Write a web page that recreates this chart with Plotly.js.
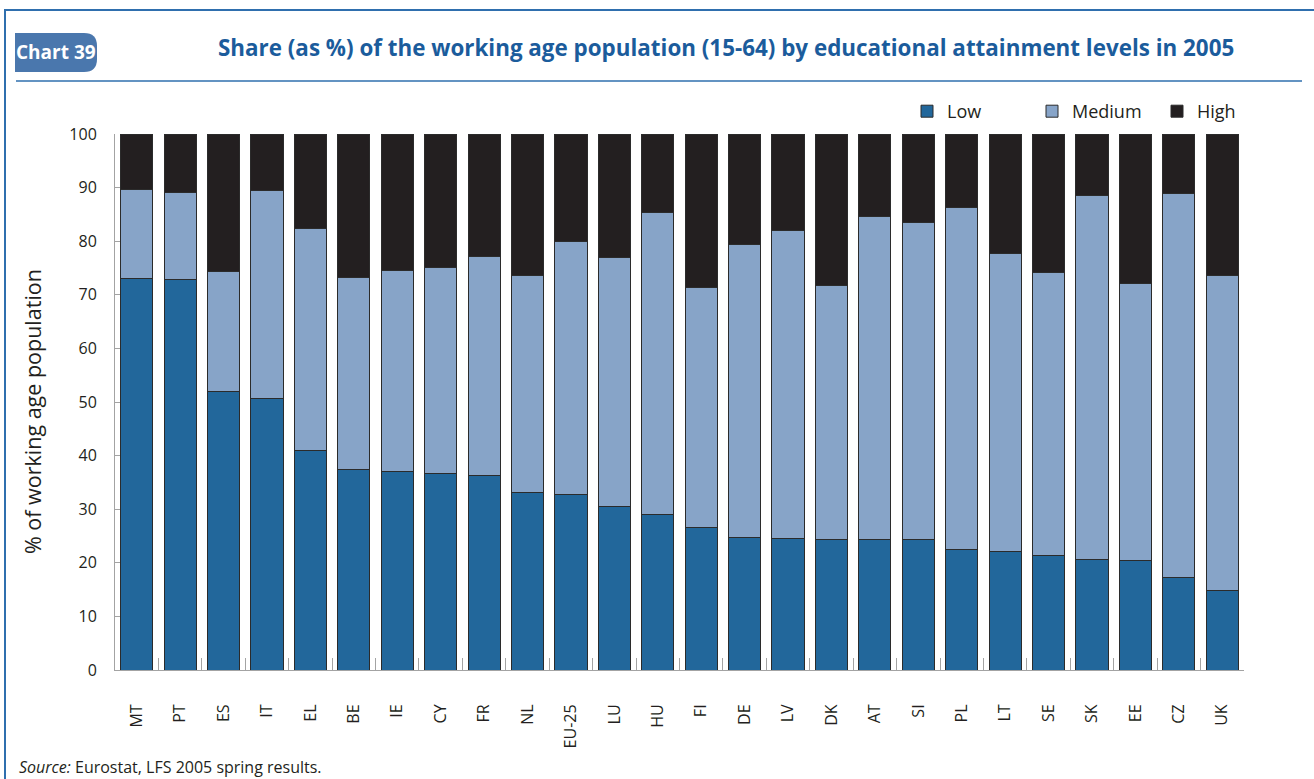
<!DOCTYPE html>
<html>
<head>
<meta charset="utf-8">
<script src="https://cdn.plot.ly/plotly-3.0.1.min.js"></script>
<style>
  html, body { margin: 0; padding: 0; background: #ffffff; }
  #chart { width: 1314px; height: 779px; }
</style>
</head>
<body>
<div id="chart"></div>
<script>
// ---- Data ----
const countries = ["MT","PT","ES","IT","EL","BE","IE","CY","FR","NL","EU-25","LU","HU","FI","DE","LV","DK","AT","SI","PL","LT","SE","SK","EE","CZ","UK"];
const lowShare = [73.0, 72.8, 51.9, 50.7, 40.9, 37.5, 37.1, 36.6, 36.2, 33.2, 32.8, 30.5, 29.0, 26.6, 24.8, 24.6, 24.4, 24.3, 24.3, 22.4, 22.1, 21.3, 20.7, 20.4, 17.2, 14.9];
const lowPlusMedium = [89.6, 89.0, 74.4, 89.5, 82.3, 73.3, 74.5, 75.1, 77.1, 73.6, 79.9, 77.0, 85.3, 71.4, 79.4, 82.0, 71.8, 84.6, 83.4, 86.2, 77.7, 74.1, 88.6, 72.1, 88.9, 73.6];
const mediumShare = lowPlusMedium.map((v, i) => +(v - lowShare[i]).toFixed(1));
const highShare = lowPlusMedium.map(v => +(100 - v).toFixed(1));
const yTicks = [0,10,20,30,40,50,60,70,80,90,100];

const seriesNames = ["Low", "Medium", "High"];
const seriesColors = ["#22679b", "#87a4c8", "#231f20"];

// ---- Geometry helpers (pixel -> paper) ----
const W = 1314, H = 779;
const PL = 115, PR = 1244, PT = 134, PB = 670;
const px = x => (x - PL) / (PR - PL);
const py = y => (PB - y) / (PB - PT);

const FONT = "Open Sans, Noto Sans, DejaVu Sans, sans-serif";
const TXT = "#231f20";

const seriesValues = [lowShare, mediumShare, highShare];
const traces = seriesNames.map((name, k) => ({
  type: "bar",
  name: name,
  x: countries,
  y: seriesValues[k],
  marker: { color: seriesColors[k], line: { color: "#2b2b2b", width: 1 } },
  hoverinfo: "x+y+name"
}));

const r = 13;
const badgePath =
  `M ${px(15)},${py(33)} L ${px(97 - r)},${py(33)} Q ${px(97)},${py(33)} ${px(97)},${py(33 + r)} ` +
  `L ${px(97)},${py(72 - r)} Q ${px(97)},${py(72)} ${px(97 - r)},${py(72)} L ${px(15)},${py(72)} Z`;

const frameBlue = "#2f6fae";

const layout = {
  width: W, height: H,
  margin: { l: PL, r: W - PR, t: PT, b: H - PB, pad: 0, autoexpand: false },
  paper_bgcolor: "#ffffff",
  plot_bgcolor: "#ffffff",
  barmode: "stack",
  bargap: 0.26,
  font: { family: FONT, color: TXT, size: 16 },
  showlegend: true,
  legend: {
    orientation: "h",
    x: px(907), xanchor: "left",
    y: py(93), yanchor: "top",
    font: { family: FONT, size: 18, color: TXT },
    entrywidth: 80, entrywidthmode: "pixels",
    itemwidth: 30,
    traceorder: "normal",
    bgcolor: "rgba(0,0,0,0)"
  },
  xaxis: {
    type: "category",
    categoryorder: "array",
    categoryarray: countries,
    tickangle: -90,
    ticks: "inside",
    tickson: "boundaries",
    ticklen: 12,
    tickcolor: "#a3a3a3",
    tickwidth: 1,
    showline: true,
    linecolor: "#a3a3a3",
    linewidth: 1,
    showgrid: false,
    zeroline: false,
    tickfont: { family: FONT, size: 16, color: TXT },
    ticklabelstandoff: 27,
    range: [-0.5, countries.length - 0.5],
    fixedrange: true
  },
  yaxis: {
    range: [0, 100],
    tickvals: yTicks,
    ticktext: yTicks.map(String),
    ticks: "inside",
    ticklen: 5,
    tickcolor: "#a3a3a3",
    showline: true,
    linecolor: "#a3a3a3",
    linewidth: 1,
    showgrid: false,
    zeroline: false,
    tickfont: { family: FONT, size: 16, color: TXT },
    ticklabelstandoff: 14,
    fixedrange: true
  },
  shapes: [
    { type: "line", xref: "paper", yref: "paper", x0: px(4), x1: px(1314), y0: py(10), y1: py(10), line: { color: frameBlue, width: 2 } },
    { type: "line", xref: "paper", yref: "paper", x0: px(5), x1: px(5), y0: py(10), y1: py(779), line: { color: frameBlue, width: 2 } },
    { type: "line", xref: "paper", yref: "paper", x0: px(16), x1: px(1302), y0: py(81), y1: py(81), line: { color: frameBlue, width: 1.5 } },
    { type: "path", xref: "paper", yref: "paper", path: badgePath, fillcolor: "#4a77ad", line: { width: 0 } }
  ],
  annotations: [
    { xref: "paper", yref: "paper", x: px(56), y: py(52), xanchor: "center", yanchor: "middle", showarrow: false,
      text: "<b>Chart 39</b>", font: { family: FONT, size: 19, color: "#ffffff" } },
    { xref: "paper", yref: "paper", x: px(1236), y: py(47), xanchor: "right", yanchor: "middle", showarrow: false,
      text: "<b>Share (as %) of the working age population (15-64) by educational attainment levels in 2005</b>",
      font: { family: FONT, size: 22.4, color: "#1b5c9c" } },
    { xref: "paper", yref: "paper", x: px(32), y: py(412), xanchor: "center", yanchor: "middle", showarrow: false,
      textangle: -90, text: "% of working age population", font: { family: FONT, size: 21.5, color: TXT } },
    { xref: "paper", yref: "paper", x: px(17), y: py(767), xanchor: "left", yanchor: "middle", showarrow: false,
      text: "<i>Source:</i> Eurostat, LFS 2005 spring results.", font: { family: FONT, size: 16, color: TXT } }
  ]
};

Plotly.newPlot("chart", traces, layout, { displayModeBar: false, staticPlot: true });
</script>
</body>
</html>
